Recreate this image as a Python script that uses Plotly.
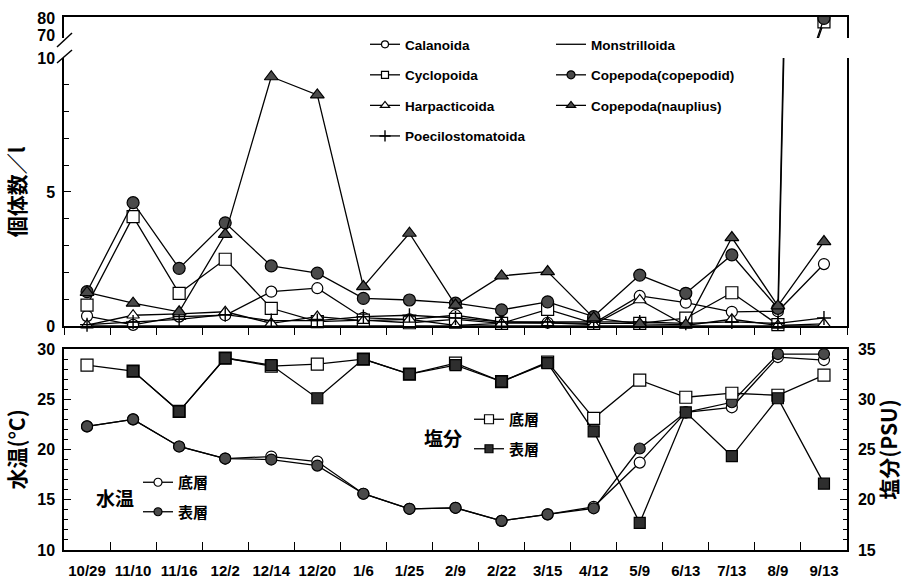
import plotly.graph_objects as go

# ---------------- data ----------------
dates = ["10/29", "11/10", "11/16", "12/2", "12/14", "12/20", "1/6", "1/25", "2/9",
         "2/22", "3/15", "4/12", "5/9", "6/13", "7/13", "8/9", "9/13"]

calanoida = [0.37, 0.04, 0.35, 0.40, 1.28, 1.41, 0.30, 0.25, 0.40, 0.15, 0.12, 0.10,
             1.12, 0.87, 0.53, 0.55, 2.31]
cyclopoida = [0.78, 4.08, 1.22, 2.49, 0.66, 0.16, 0.22, 0.12, 0.25, 0.10, 0.62, 0.10,
              0.10, 0.29, 1.24, 0.05, 78.0]
harpacticoida = [0.03, 0.40, 0.45, 0.53, 0.10, 0.35, 0.20, 0.25, 0.02, 0.10, 0.12, 0.05,
                 0.97, 0.02, 0.25, 0.02, 0.08]
poecilostomatoida = [0.05, 0.15, 0.25, 0.42, 0.20, 0.20, 0.35, 0.40, 0.30, 0.15, 0.15, 0.15,
                     0.15, 0.10, 0.15, 0.10, 0.30]
monstrilloida = [0.0, 0.0, 0.0, 0.0, 0.0, 0.0, 0.0, 0.0, 0.0, 0.0, 0.0, 0.0,
                 0.0, 0.0, 0.0, 0.0, 0.0]
copepodid = [1.28, 4.60, 2.15, 3.85, 2.24, 1.97, 1.03, 0.97, 0.85, 0.60, 0.90, 0.35,
             1.90, 1.22, 2.65, 0.66, 80.0]
nauplius = [1.25, 0.85, 0.53, 3.42, 9.30, 8.62, 1.47, 3.46, 0.78, 1.87, 2.03, 0.30,
            0.08, 0.05, 3.30, 0.75, 3.15]

temp_bottom = [22.3, 23.0, 20.3, 19.1, 19.3, 18.8, 15.6, 14.1, 14.2, 12.9, 13.55, 14.3,
               18.7, 23.7, 24.2, 29.2, 28.9]
temp_surface = [22.3, 23.0, 20.3, 19.1, 19.0, 18.4, 15.6, 14.1, 14.2, 12.9, 13.55, 14.15,
                20.1, 23.7, 24.7, 29.5, 29.5]
sal_bottom = [33.4, 32.8, 28.8, 34.1, 33.3, 33.5, 34.0, 32.5, 33.6, 31.75, 33.7, 28.1,
              31.9, 30.2, 30.6, 30.4, 32.4]
sal_surface = [None, 32.8, 28.8, 34.1, 33.4, 30.1, 34.0, 32.5, 33.4, 31.75, 33.6, 26.8,
               17.7, 28.7, 24.35, 30.1, 21.6]

# ---------------- styles ----------------
FONT = "Liberation Sans, Arial, Noto Sans CJK JP, sans-serif"
CJK = "Noto Sans CJK JP, Liberation Sans, sans-serif"
BLACK = "black"
GRAY = "#4a4a4a"
DARK = "#2e2e2e"


def mk(symbol, fill, size):
    return dict(symbol=symbol, color=fill, size=size, line=dict(color=BLACK, width=1.2))


def cross(size):
    return dict(symbol="cross-thin", size=size, color=BLACK, line=dict(color=BLACK, width=1.4))


# name, values, plot marker, legend marker, legend id
top_series = [
    ("Monstrilloida", monstrilloida, None, None, "legend2"),
    ("Calanoida", calanoida, mk("circle", "white", 11), mk("circle", "white", 7), "legend"),
    ("Cyclopoida", cyclopoida, mk("square", "white", 12), mk("square", "white", 7), "legend"),
    ("Harpacticoida", harpacticoida, mk("triangle-up", "white", 11),
     mk("triangle-up", "white", 8), "legend"),
    ("Poecilostomatoida", poecilostomatoida, cross(10), cross(8), "legend"),
    ("Copepoda(copepodid)", copepodid, mk("circle", GRAY, 12), mk("circle", GRAY, 8), "legend2"),
    ("Copepoda(nauplius)", nauplius, mk("triangle-up", GRAY, 12),
     mk("triangle-up", GRAY, 8), "legend2"),
]

fig = go.Figure()
LINE = dict(color=BLACK, width=1.3)

for name, vals, marker, lmarker, leg in top_series:
    mode = "lines" if marker is None else "lines+markers"
    kw = dict(marker=marker) if marker is not None else {}
    lkw = dict(marker=lmarker) if lmarker is not None else {}
    # lower part of broken axis (0-10)
    fig.add_trace(go.Scatter(
        x=dates, y=vals, name=name, mode=mode, showlegend=False, legendgroup=name,
        line=LINE, cliponaxis=False, xaxis="x", yaxis="y", **kw))
    # upper part of broken axis (70-80)
    fig.add_trace(go.Scatter(
        x=dates, y=vals, name=name, mode=mode, showlegend=False, legendgroup=name,
        line=LINE, cliponaxis=True, xaxis="x2", yaxis="y2", **kw))
    # legend entry (no data, smaller symbol)
    fig.add_trace(go.Scatter(
        x=[None], y=[None], name=name, mode=mode, legend=leg, legendgroup=name,
        line=LINE, xaxis="x", yaxis="y", **lkw))

# bottom panel
bottom_series = [
    ("底層", temp_bottom, mk("circle", "white", 11), mk("circle", "white", 8), "legend3", "y3"),
    ("表層", temp_surface, mk("circle", GRAY, 11), mk("circle", GRAY, 8), "legend3", "y3"),
    ("底層", sal_bottom, mk("square", "white", 12), mk("square", "white", 9), "legend4", "y4"),
    ("表層", sal_surface, mk("square", DARK, 11), mk("square", DARK, 8), "legend4", "y4"),
]
for i, (name, vals, marker, lmarker, leg, yax) in enumerate(bottom_series):
    grp = f"b{i}"
    fig.add_trace(go.Scatter(x=dates, y=vals, name=name, mode="lines+markers",
                             showlegend=False, legendgroup=grp, line=LINE, marker=marker,
                             cliponaxis=False, xaxis="x3", yaxis=yax))
    fig.add_trace(go.Scatter(x=[None], y=[None], name=name, mode="lines+markers",
                             legend=leg, legendgroup=grp, line=LINE, marker=lmarker,
                             xaxis="x3", yaxis=yax))

axis_common = dict(showgrid=False, zeroline=False, linecolor=BLACK, linewidth=1.5,
                   tickcolor=BLACK, tickwidth=1.2, automargin=False)
cat_common = dict(type="category", range=[-0.5, 16.5], categoryorder="array",
                  categoryarray=dates)
tickfont = dict(family=FONT, size=16, color=BLACK, weight="bold")
xtickfont = dict(family=FONT, size=15, color=BLACK, weight="bold")

legfont = dict(family=FONT, size=13.5, weight="bold")
cjklegfont = dict(family=CJK, size=15, weight="bold")

fig.update_layout(
    width=903, height=581,
    margin=dict(l=64, r=56, t=17, b=31),
    paper_bgcolor="white", plot_bgcolor="white",
    font=dict(family=FONT, size=14, color=BLACK),
    xaxis=dict(domain=[0, 1], anchor="y", tickson="boundaries", ticks="outside",
               ticklen=7, showticklabels=False, showline=True, **cat_common, **axis_common),
    yaxis=dict(domain=[0.4203, 0.9231], anchor="x", range=[0, 10], tickvals=[0, 5, 10],
               ticks="inside", ticklen=7, minor=dict(dtick=1, ticks="inside", ticklen=5,
                                                    tickcolor=BLACK),
               showline=True, mirror=True, tickfont=tickfont, ticklabelstandoff=4,
               title=dict(text="個体数／l", font=dict(family=CJK, size=21, weight="bold"),
                          standoff=6),
               **axis_common),
    xaxis2=dict(domain=[0, 1], anchor="y2", side="top", ticks="", showticklabels=False,
                showline=True, **cat_common, **axis_common),
    yaxis2=dict(domain=[0.9606, 1.0], anchor="x2", range=[68.5, 80.8], tickvals=[70, 80],
                ticks="", showline=True, mirror=True, tickfont=tickfont,
                ticklabelstandoff=4, **axis_common),
    xaxis3=dict(domain=[0, 1], anchor="y3", tickson="boundaries", ticks="inside",
                ticklen=8, showline=True, mirror=True, tickfont=xtickfont, tickangle=0,
                ticklabelstandoff=6, **cat_common, **axis_common),
    yaxis3=dict(domain=[0, 0.3771], anchor="x3", range=[10, 30], dtick=5,
                ticks="inside", ticklen=7,
                minor=dict(dtick=1, ticks="inside", ticklen=4, tickcolor=BLACK),
                showline=True, tickfont=tickfont, ticklabelstandoff=4,
                title=dict(text="水温(°C)", font=dict(family=CJK, size=21, weight="bold"),
                           standoff=6),
                **axis_common),
    yaxis4=dict(overlaying="y3", side="right", anchor="x3", range=[15, 35], dtick=5,
                ticks="inside", ticklen=7,
                minor=dict(dtick=1, ticks="inside", ticklen=4, tickcolor=BLACK),
                showline=True, tickfont=tickfont, ticklabelstandoff=6,
                title=dict(text="塩分(PSU)", font=dict(family=CJK, size=21, weight="bold"),
                           standoff=12),
                **axis_common),
    legend=dict(x=(365 - 64) / 783, y=(550 - 29) / 533, xanchor="left", yanchor="top",
                bgcolor="rgba(0,0,0,0)", tracegroupgap=10, itemwidth=30, font=legfont),
    legend2=dict(x=(551 - 64) / 783, y=(550 - 29) / 533, xanchor="left", yanchor="top",
                 bgcolor="rgba(0,0,0,0)", tracegroupgap=10, itemwidth=30, font=legfont),
    legend3=dict(x=(138 - 64) / 783, y=(550 - 466) / 533, xanchor="left", yanchor="top",
                 bgcolor="rgba(0,0,0,0)", tracegroupgap=7, itemwidth=30, font=cjklegfont),
    legend4=dict(x=(469 - 64) / 783, y=(550 - 403) / 533, xanchor="left", yanchor="top",
                 bgcolor="rgba(0,0,0,0)", tracegroupgap=7, itemwidth=30, font=cjklegfont),
    annotations=[
        dict(text="水温", x=(115 - 64) / 783, y=(550 - 497) / 533, xref="paper",
             yref="paper", xanchor="center", yanchor="middle", showarrow=False,
             font=dict(family=CJK, size=19, weight="bold")),
        dict(text="塩分", x=(443 - 64) / 783, y=(550 - 437) / 533, xref="paper",
             yref="paper", xanchor="center", yanchor="middle", showarrow=False,
             font=dict(family=CJK, size=19, weight="bold")),
    ],
    shapes=[
        dict(type="line", xref="paper", yref="paper",
             x0=(57 - 64) / 783, y0=(550 - 47) / 533, x1=(72 - 64) / 783, y1=(550 - 33) / 533,
             line=dict(color=BLACK, width=1.5)),
        dict(type="line", xref="paper", yref="paper",
             x0=(57 - 64) / 783, y0=(550 - 63) / 533, x1=(72 - 64) / 783, y1=(550 - 50) / 533,
             line=dict(color=BLACK, width=1.5)),
    ],
)

fig.write_html("out.html")
